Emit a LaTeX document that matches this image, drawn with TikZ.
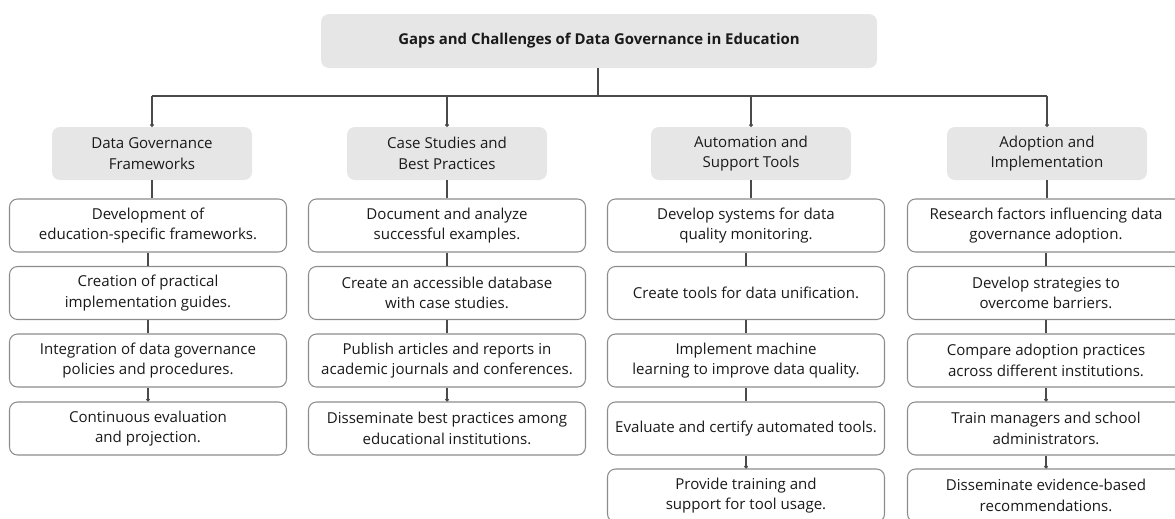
\documentclass[tikz,border=0pt]{standalone}
\usepackage{fontspec}
\setmainfont{Open Sans}
\usetikzlibrary{arrows.meta}

\definecolor{boxfill}{HTML}{E6E6E6}
\definecolor{boxline}{HTML}{8C8C8C}
\definecolor{linkline}{HTML}{4A4A4A}
\definecolor{txt}{HTML}{1A1A1A}

\tikzset{
  headbox/.style={rounded corners=6pt, fill=boxfill, draw=none,
    minimum width=556*0.75pt, minimum height=54*0.75pt, inner sep=0pt,
    font=\fontsize{11.2pt}{15.5pt}\selectfont\bfseries, text=txt},
  catbox/.style={rounded corners=6pt, fill=boxfill, draw=none,
    minimum width=200*0.75pt, minimum height=53*0.75pt, inner sep=0pt,
    align=center, font=\fontsize{11.3pt}{15.5pt}\selectfont, text=txt},
  itembox/.style={rounded corners=6pt, fill=white, draw=boxline, line width=0.8pt,
    minimum width=277*0.75pt, minimum height=53*0.75pt, inner sep=0pt,
    align=center, font=\fontsize{11.3pt}{15.5pt}\selectfont, text=txt},
  link/.style={draw=linkline, line width=1pt},
  dotlink/.style={link, -{Circle[length=2.6pt]}},
}

\begin{document}
\begin{tikzpicture}[x=0.75pt, y=-0.75pt]
  \useasboundingbox (0,0) rectangle (1175,518);

  % root
  \node[headbox] (root) at (599,41) {Gaps and Challenges of Data Governance in Education};
  \coordinate (bus) at (598,96);

  % categories
  \node[catbox] (c1) at (152,153.5) {Data Governance\\Frameworks};
  \node[catbox] (c2) at (447,153.5) {Case Studies and\\Best Practices};
  \node[catbox] (c3) at (751,153.5) {Automation and\\Support Tools};
  \node[catbox] (c4) at (1047,153.5) {Adoption and\\Implementation};

  % column 1
  \node[itembox] (a1) at (148,225.5) {Development of\\education-specific frameworks.};
  \node[itembox] (a2) at (148,293) {Creation of practical\\implementation guides.};
  \node[itembox] (a3) at (148,360.5) {Integration of data governance\\policies and procedures.};
  \node[itembox] (a4) at (148,428.5) {Continuous evaluation\\and projection.};

  % column 2
  \node[itembox] (b1) at (447,225.5) {Document and analyze\\successful examples.};
  \node[itembox] (b2) at (447,293) {Create an accessible database\\with case studies.};
  \node[itembox] (b3) at (447,360.5) {Publish articles and reports in\\academic journals and conferences.};
  \node[itembox] (b4) at (447,428.5) {Disseminate best practices among\\educational institutions.};

  % column 3
  \node[itembox] (d1) at (746,225.5) {Develop systems for data\\quality monitoring.};
  \node[itembox] (d2) at (746,293) {Create tools for data unification.};
  \node[itembox] (d3) at (746,360.5) {Implement machine\\learning to improve data quality.};
  \node[itembox] (d4) at (746,428.5) {Evaluate and certify automated tools.};
  \node[itembox] (d5) at (746,495.5) {Provide training and\\support for tool usage.};

  % column 4
  \node[itembox] (e1) at (1046,225.5) {Research factors influencing data\\governance adoption.};
  \node[itembox] (e2) at (1046,293) {Develop strategies to\\overcome barriers.};
  \node[itembox] (e3) at (1046,360.5) {Compare adoption practices\\across different institutions.};
  \node[itembox] (e4) at (1046,428.5) {Train managers and school\\administrators.};
  \node[itembox] (e5) at (1046,495.5) {Disseminate evidence-based\\recommendations.};

  % root to categories
  \draw[link] (root.south -| bus) -- (bus);
  \draw[link] (c1.north |- bus) -- (c4.north |- bus);
  \foreach \c in {c1,c2,c3,c4}
    \draw[dotlink] (\c.north |- bus) -- (\c.north);

  % categories to first items
  \draw[link] (c1.south) -- (c1.south |- a1.north);
  \draw[link] (c2.south) -- (c2.south |- b1.north);
  \draw[link] (c3.south) -- (c3.south |- d1.north);
  \draw[link] (c4.south) -- (c4.south |- e1.north);

  % column chains
  \draw[link] (a1.south) -- (a2.north);
  \draw[link] (a2.south) -- (a3.north);
  \draw[dotlink] (a3.south) -- (a4.north);

  \draw[link] (b1.south) -- (b2.north);
  \draw[link] (b2.south) -- (b3.north);
  \draw[dotlink] (b3.south) -- (b4.north);

  \draw[link] (d1.south) -- (d2.north);
  \draw[link] (d2.south) -- (d3.north);
  \draw[link] (d3.south) -- (d4.north);
  \draw[dotlink] (d4.south) -- (d5.north);

  \draw[link] (e1.south) -- (e2.north);
  \draw[link] (e2.south) -- (e3.north);
  \draw[dotlink] (e3.south) -- (e4.north);
  \draw[dotlink] (e4.south) -- (e5.north);
\end{tikzpicture}
\end{document}
